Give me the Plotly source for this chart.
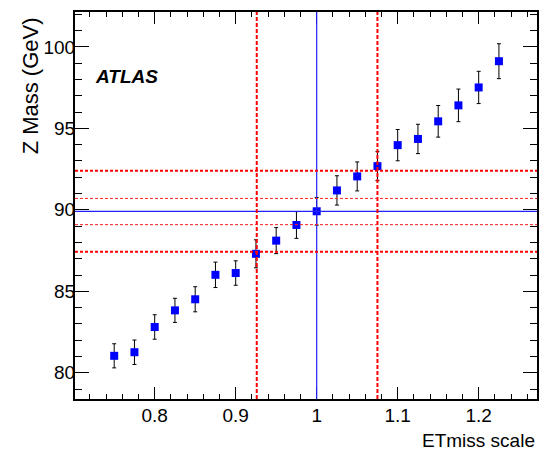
import plotly.graph_objects as go

# ---- data ----
et_scale = [0.75, 0.775, 0.8, 0.825, 0.85, 0.875, 0.9, 0.925, 0.95, 0.975,
            1.0, 1.025, 1.05, 1.075, 1.1, 1.125, 1.15, 1.175, 1.2, 1.225]
z_mass = [81.04, 81.26, 82.81, 83.83, 84.51, 86.01, 86.12, 87.30, 88.11, 89.07,
          89.91, 91.19, 92.05, 92.68, 93.97, 94.35, 95.43, 96.41, 97.51, 99.12]
z_err = [0.74, 0.75, 0.75, 0.74, 0.77, 0.78, 0.75, 0.86, 0.80, 0.82,
         0.85, 0.90, 0.89, 0.89, 0.96, 0.90, 0.97, 1.00, 0.99, 1.07]

ref_scale = 1.0
ref_mass = 89.91
band_scale = [0.926, 1.075]
band_mass_outer = [92.40, 87.42]
band_mass_inner = [90.70, 89.09]

x_tickvals = [0.8, 0.9, 1.0, 1.1, 1.2]
x_ticktext = ["0.8", "0.9", "1", "1.1", "1.2"]
y_tickvals = [80, 85, 90, 95, 100]

x_range = [0.7016, 1.272]
y_range = [78.39, 102.14]

FONT = "Liberation Sans, Arial, sans-serif"

fig = go.Figure()
fig.add_trace(go.Scatter(
    x=et_scale, y=z_mass, mode="markers",
    marker=dict(symbol="square", size=8, color="#0000ff"),
    error_y=dict(type="data", array=z_err, color="black", thickness=1, width=2),
    showlegend=False,
))

shapes = []
# blue reference lines
shapes.append(dict(type="line", xref="x", yref="paper", x0=ref_scale, x1=ref_scale, y0=0, y1=1,
                   line=dict(color="#2222ff", width=1.2)))
shapes.append(dict(type="line", xref="paper", yref="y", x0=0, x1=1, y0=ref_mass, y1=ref_mass,
                   line=dict(color="#2222ff", width=1.2)))
# red dashed lines
for xv in band_scale:
    shapes.append(dict(type="line", xref="x", yref="paper", x0=xv, x1=xv, y0=0, y1=1,
                       line=dict(color="#ff0000", width=2, dash="4px,2px")))
for yv in band_mass_outer:
    shapes.append(dict(type="line", xref="paper", yref="y", x0=0, x1=1, y0=yv, y1=yv,
                       line=dict(color="#ff0000", width=2, dash="3px,2px")))
for yv in band_mass_inner:
    shapes.append(dict(type="line", xref="paper", yref="y", x0=0, x1=1, y0=yv, y1=yv,
                       line=dict(color="#ff2020", width=1, dash="3px,2px")))

annotations = [
    dict(text="Z Mass (GeV)", textangle=-90, xref="paper", yref="paper",
         x=-0.0974, y=0.99, xanchor="center", yanchor="top", showarrow=False,
         font=dict(family=FONT, size=22, color="black")),
    dict(text="ETmiss scale", xref="paper", yref="paper",
         x=1.0, y=-0.108, xanchor="right", yanchor="middle", showarrow=False,
         font=dict(family=FONT, size=19, color="black")),
    dict(text="<b><i>ATLAS</i></b>", xref="paper", yref="paper",
         x=0.039, y=0.833, xanchor="left", yanchor="middle", showarrow=False,
         font=dict(family=FONT, size=19, color="black")),
]

fig.update_layout(
    width=549, height=454,
    margin=dict(l=75, r=12, t=10, b=55),
    paper_bgcolor="white", plot_bgcolor="white",
    shapes=shapes, annotations=annotations,
    xaxis=dict(range=x_range, showgrid=False, zeroline=False,
               tickmode="array", tickvals=x_tickvals, ticktext=x_ticktext,
               ticks="inside", ticklen=12, tickwidth=1, tickcolor="black",
               minor=dict(dtick=0.02, tick0=0, ticks="inside", ticklen=5, tickwidth=1, tickcolor="black", showgrid=False),
               showline=True, linecolor="black", linewidth=2, mirror="ticks",
               ticklabelstandoff=-2,
               tickfont=dict(family=FONT, size=19, color="black")),
    yaxis=dict(range=y_range, showgrid=False, zeroline=False,
               tickmode="array", tickvals=y_tickvals,
               ticks="inside", ticklen=14, tickwidth=1, tickcolor="black",
               minor=dict(dtick=1, tick0=0, ticks="inside", ticklen=7, tickwidth=1, tickcolor="black", showgrid=False),
               showline=True, linecolor="black", linewidth=2, mirror="ticks",
               ticklabelstandoff=-6,
               tickfont=dict(family=FONT, size=19, color="black")),
)

fig.write_html("out.html", config={"displayModeBar": False},
               post_script="document.body.style.margin='0px';document.body.style.padding='0px';")
